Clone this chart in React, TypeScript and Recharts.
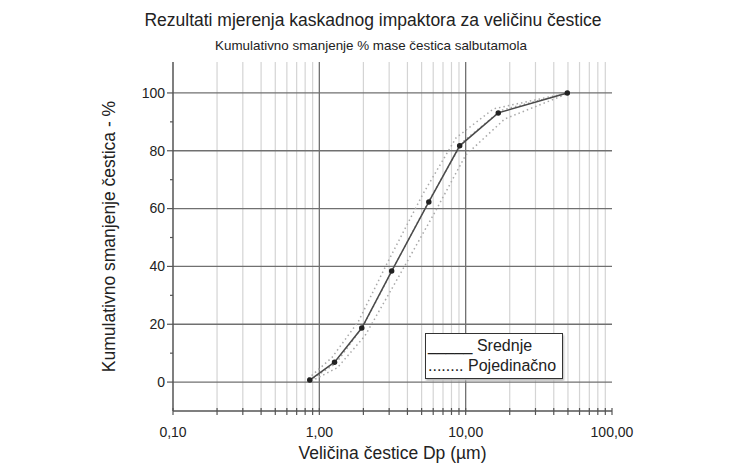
import { LineChart, Line, XAxis, YAxis, ReferenceLine, Legend } from 'recharts';

const FONT = '"Liberation Sans", Arial, sans-serif';

// x axis (log) ticks and labels
const xTicks = [
  0.1, 0.2, 0.3, 0.4, 0.5, 0.6, 0.7, 0.8, 0.9,
  1, 2, 3, 4, 5, 6, 7, 8, 9,
  10, 20, 30, 40, 50, 60, 70, 80, 90, 100,
];
const xMajor = [0.1, 1, 10, 100];
const xMinorGrid = xTicks.filter((v) => !xMajor.includes(v));
const xMajorGrid = [1, 10];

// y axis ticks
const yTicks = [0, 10, 20, 30, 40, 50, 60, 70, 80, 90, 100];
const yMajor = [0, 20, 40, 60, 80, 100];

// mean (Srednje)
const meanX = [0.86, 1.27, 1.95, 3.12, 5.6, 9.1, 16.7, 49.5];
const meanY = [0.7, 6.9, 18.7, 38.4, 62.3, 81.7, 93.1, 100];

// individual runs (Pojedinačno)
const run1X = [0.84, 1.22, 1.85, 2.9, 5.1, 8.6, 15.5, 50];
const run1Y = [1.2, 8.5, 21, 41, 65, 84.5, 94.5, 100];
const run2X = [0.88, 1.33, 2.05, 3.4, 6.2, 10.0, 18.5, 51];
const run2Y = [0.3, 5.0, 16, 35.5, 59, 78.5, 91, 100];
const run3X = [0.86, 1.3, 2.0, 3.25, 5.8, 9.5, 17.5, 50];
const run3Y = [0.5, 6.5, 19.5, 40, 64, 83, 94, 100];

const toPoints = (xs: number[], ys: number[]) => xs.map((x, i) => ({ x, y: ys[i] }));

const meanData = toPoints(meanX, meanY);
const runs = [toPoints(run1X, run1Y), toPoints(run2X, run2Y), toPoints(run3X, run3Y)];

const formatX = (v: number) => v.toFixed(2).replace('.', ',');

const XTick = (props: any) => {
  const { x, y, payload } = props;
  const v = payload.value;
  const major = xMajor.some((m) => Math.abs(m - v) < 1e-9);
  return (
    <g>
      <line x1={x} x2={x} y1={y - 3} y2={y + 4} stroke="#555" strokeWidth={1.2} />
      {major && (
        <text x={x} y={y + 26} textAnchor="middle" fontSize={14} fill="#222" fontFamily={FONT}>
          {formatX(v)}
        </text>
      )}
    </g>
  );
};

const YTick = (props: any) => {
  const { x, y, payload } = props;
  const v = payload.value;
  const major = yMajor.includes(v);
  return (
    <g>
      <line x1={x} x2={x - (major ? 6 : 3)} y1={y} y2={y} stroke="#555" strokeWidth={1.2} />
      {major && (
        <text x={x - 8} y={y} dy="0.35em" textAnchor="end" fontSize={14} fill="#222" fontFamily={FONT}>
          {v}
        </text>
      )}
    </g>
  );
};

const LegendBox = () => (
  <div
    style={{
      border: '1px solid #333',
      background: '#fff',
      boxShadow: '1px 2px 2px #bbb',
      fontFamily: FONT,
      fontSize: 16,
      color: '#222',
      padding: '2px 2px',
      lineHeight: '20px',
      boxSizing: 'border-box',
      width: 138,
      whiteSpace: 'nowrap',
    }}
  >
    <div>_____ Srednje</div>
    <div>........ Pojedinačno</div>
  </div>
);

export default function App() {
  return (
    <div style={{ position: 'relative', width: 724, height: 462, fontFamily: FONT }}>
      <div
        style={{
          position: 'absolute',
          left: 0,
          width: 730,
          top: 2,
          textAlign: 'center',
          fontSize: 17.5,
          color: '#222',
        }}
      >
        Rezultati mjerenja kaskadnog impaktora za veličinu čestice
      </div>
      <div
        style={{
          position: 'absolute',
          left: 0,
          width: 726,
          top: 30,
          textAlign: 'center',
          fontSize: 13.4,
          color: '#222',
        }}
      >
        Kumulativno smanjenje % mase čestica salbutamola
      </div>
      <LineChart width={724} height={462} margin={{ top: 54, right: 120, bottom: 29, left: 105 }}>
        <XAxis
          dataKey="x"
          type="number"
          scale="log"
          domain={[0.1, 100]}
          ticks={xTicks}
          interval={0}
          allowDataOverflow
          tick={<XTick />}
          tickLine={false}
          tickSize={0}
          tickMargin={0}
          height={30}
          axisLine={{ stroke: '#555', strokeWidth: 1.5 }}
          label={{
            value: 'Veličina čestice Dp (µm)',
            position: 'bottom',
            offset: 6,
            fontSize: 17.5,
            fill: '#222',
            fontFamily: FONT,
          }}
        />
        <YAxis
          yAxisId="l"
          dataKey="y"
          type="number"
          domain={[-10, 110.7]}
          ticks={yTicks}
          interval={0}
          allowDataOverflow
          width={60}
          tick={<YTick />}
          tickLine={false}
          tickSize={0}
          tickMargin={0}
          axisLine={{ stroke: '#555', strokeWidth: 1.5 }}
          label={{
            value: 'Kumulativno smanjenje čestica - %',
            angle: -90,
            position: 'left',
            offset: 4,
            fontSize: 17.5,
            fill: '#222',
            fontFamily: FONT,
            style: { textAnchor: 'middle' },
          }}
        />
        <YAxis
          yAxisId="r"
          orientation="right"
          type="number"
          domain={[-10, 110.7]}
          ticks={yTicks}
          interval={0}
          width={0}
          tick={false}
          tickSize={3}
          tickLine={{ stroke: '#555' }}
          axisLine={{ stroke: '#555', strokeWidth: 1.5 }}
        />
        {xMinorGrid.map((v) => (
          <ReferenceLine key={'xm' + v} yAxisId="l" x={v} stroke="#d4d4d4" strokeWidth={1.2} />
        ))}
        {xMajorGrid.map((v) => (
          <ReferenceLine key={'xM' + v} yAxisId="l" x={v} stroke="#707070" strokeWidth={1.3} />
        ))}
        {yMajor.map((v) => (
          <ReferenceLine key={'y' + v} yAxisId="l" y={v} stroke="#707070" strokeWidth={1.3} />
        ))}
        {runs.map((d, i) => (
          <Line
            key={'run' + i}
            yAxisId="l"
            data={d}
            dataKey="y"
            type="linear"
            stroke="#a8a8a8"
            strokeWidth={1.5}
            strokeDasharray="1.5 3"
            dot={false}
            isAnimationActive={false}
          />
        ))}
        <Line
          yAxisId="l"
          data={meanData}
          dataKey="y"
          type="linear"
          stroke="#4a4a4a"
          strokeWidth={1.5}
          dot={{ r: 2, fill: '#222', stroke: '#222' }}
          isAnimationActive={false}
        />
        <Legend
          layout="horizontal"
          verticalAlign="middle"
          align="center"
          content={<LegendBox />}
          wrapperStyle={{ position: 'absolute', left: 417, top: 325, width: 138 }}
        />
      </LineChart>
    </div>
  );
}
